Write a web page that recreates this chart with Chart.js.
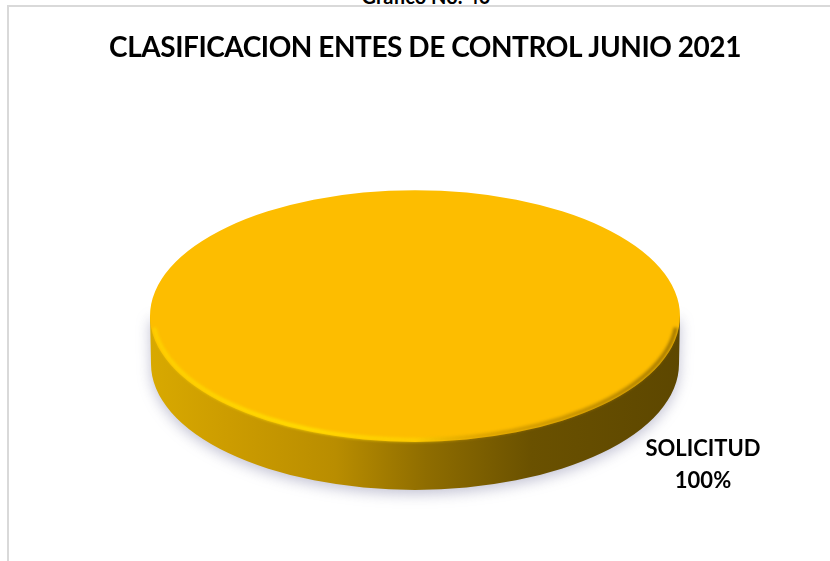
<!DOCTYPE html>
<html>
<head>
<meta charset="utf-8">
<script src="https://cdn.jsdelivr.net/npm/chart.js@4"></script>
<style>
  html, body { margin: 0; padding: 0; background: #fff; overflow: hidden; }
  #page { position: relative; width: 830px; height: 561px; overflow: hidden; }
  #caption { position: absolute; left: 0; width: 852px; top: -16px; text-align: center;
             font: 700 20px Lato, sans-serif; color: #000; }
  #frame { position: absolute; left: 7px; top: 5px; width: 830px; height: 600px;
           border: 2px solid #d9d9d9; box-sizing: border-box; }
  canvas { position: absolute; left: 0; top: 0; }
</style>
</head>
<body>
<div id="page">
  <div id="caption">Gráfico No. 40</div>
  <div id="frame"></div>
  <canvas id="chart" width="830" height="561"></canvas>
</div>
<script>
// Datos del grafico
const titulo = 'CLASIFICACION ENTES DE CONTROL JUNIO 2021';
const categorias = ['SOLICITUD'];
const valores = [100];
const colores = ['#FDBD00'];

// Disco en perspectiva
const centroX = 415;
const centroY = 316;
const aplastado = 0.475;
const grosor = 48;

const disco = {
  id: 'disco',
  beforeDraw(chart) {
    // el titulo va algo mas apretado
    chart.ctx.letterSpacing = '-0.45px';
  },
  beforeDatasetsDraw(chart) {
    const ctx = chart.ctx;
    ctx.letterSpacing = '0px';
    const arc = chart.getDatasetMeta(0).data[0];
    const r = arc.outerRadius;
    const ry = r * aplastado;

    // canto con sombra
    const canto = ctx.createLinearGradient(centroX - r, 0, centroX + r, 0);
    canto.addColorStop(0, '#d8a900');
    canto.addColorStop(0.15, '#cc9c00');
    canto.addColorStop(0.35, '#b98d00');
    canto.addColorStop(0.52, '#8f6d00');
    canto.addColorStop(0.72, '#6a5100');
    canto.addColorStop(1, '#5d4700');
    ctx.save();
    ctx.shadowColor = 'rgba(80,80,130,0.35)';
    ctx.shadowBlur = 14;
    ctx.shadowOffsetY = 4;
    ctx.fillStyle = canto;
    ctx.beginPath();
    ctx.ellipse(centroX, centroY + grosor, r - 1, ry, 0, 0, Math.PI);
    ctx.lineTo(centroX - r, centroY);
    ctx.lineTo(centroX + r, centroY);
    ctx.closePath();
    ctx.fill();
    ctx.restore();

    // la cara superior la dibuja Chart.js, aplastada
    ctx.save();
    ctx.translate(centroX, centroY);
    ctx.scale(1, aplastado);
    ctx.translate(-arc.x, -arc.y);
  },
  afterDatasetsDraw(chart) {
    const ctx = chart.ctx;
    ctx.restore();
    const arc = chart.getDatasetMeta(0).data[0];
    const r = arc.outerRadius;
    const ry = r * aplastado;

    // brillo del borde inferior izquierdo y borde difuso a la derecha
    const brillo = ctx.createLinearGradient(centroX - r, 0, centroX + r, 0);
    brillo.addColorStop(0, 'rgba(255,222,0,0.6)');
    brillo.addColorStop(0.3, 'rgba(255,222,0,1)');
    brillo.addColorStop(0.5, 'rgba(255,214,0,0.7)');
    brillo.addColorStop(0.62, 'rgba(190,140,0,0.5)');
    brillo.addColorStop(1, 'rgba(150,110,0,0.9)');
    ctx.save();
    ctx.filter = 'blur(1.8px)';
    ctx.strokeStyle = brillo;
    ctx.lineWidth = 4;
    ctx.beginPath();
    ctx.ellipse(centroX, centroY, r - 3, ry - 2, 0, Math.PI * 0.03, Math.PI * 0.97);
    ctx.stroke();
    ctx.restore();

    // etiqueta
    ctx.save();
    ctx.fillStyle = '#000';
    ctx.font = '700 22px Lato, sans-serif';
    ctx.textAlign = 'center';
    ctx.textBaseline = 'middle';
    ctx.fillText(categorias[0], 703, 449);
    ctx.fillText(valores[0] + '%', 703, 481);
    ctx.restore();
  }
};

new Chart(document.getElementById('chart'), {
  type: 'pie',
  data: {
    labels: categorias,
    datasets: [{
      data: valores,
      backgroundColor: colores,
      borderWidth: 0,
      radius: 265,
      clip: false
    }]
  },
  options: {
    responsive: false,
    animation: false,
    layout: { padding: { left: 20 } },
    plugins: {
      legend: { display: false },
      tooltip: { enabled: false },
      title: {
        display: true,
        text: titulo,
        fullSize: false,
        color: '#000',
        font: { family: 'Lato', size: 28, weight: '700' },
        padding: { top: 31, bottom: 10 }
      }
    }
  },
  plugins: [disco]
});
</script>
</body>
</html>
